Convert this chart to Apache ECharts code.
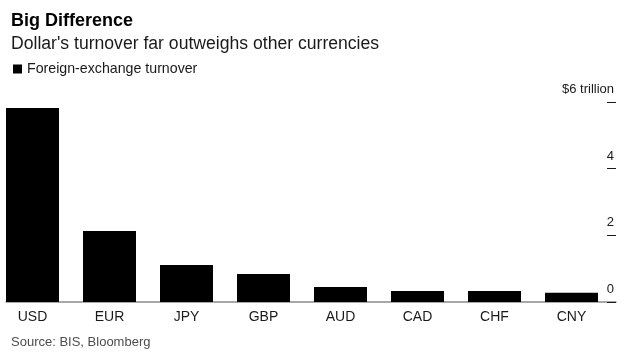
<!DOCTYPE html>
<html>
<head>
<meta charset="utf-8">
<title>Big Difference</title>
<script src="https://cdn.jsdelivr.net/npm/echarts@6/dist/echarts.min.js"></script>
<style>
  html, body { margin: 0; padding: 0; background: #fff; }
  #chart { width: 632px; height: 352px; }
</style>
</head>
<body>
<div id="chart"></div>
<script>
// data (trillions of dollars)
const currencies = ['USD', 'EUR', 'JPY', 'GBP', 'AUD', 'CAD', 'CHF', 'CNY']
const turnover = [5.82, 2.13, 1.11, 0.84, 0.45, 0.33, 0.33, 0.28]
const yTicks = [0, 2, 4, 6]
const seriesName = 'Foreign-exchange turnover'

const font = '"Liberation Sans", Arial, Helvetica, sans-serif'

let myChart = echarts.init(document.getElementById('chart'), null, { renderer: 'canvas' })

let options = {
  animation: false,
  textStyle: { fontFamily: font },
  title: [{
    text: 'Big Difference',
    left: 6,
    top: 7,
    textStyle: { fontSize: 18, fontWeight: 'bold', color: '#000', fontFamily: font }
  }, {
    text: 'Dollar\'s turnover far outweighs other currencies',
    left: 6,
    top: 30,
    textStyle: { fontSize: 17.6, fontWeight: 'normal', color: '#1a1a1a', fontFamily: font }
  }, {
    text: 'Source: BIS, Bloomberg',
    left: 6,
    top: 331,
    textStyle: { fontSize: 13, fontWeight: 'normal', color: '#4d4d4d', fontFamily: font }
  }],
  legend: {
    left: 8,
    top: 57,
    icon: 'rect',
    itemWidth: 9,
    itemHeight: 9,
    itemGap: 5,
    textStyle: { fontSize: 14.2, color: '#1a1a1a', fontFamily: font },
    data: [seriesName]
  },
  // grid 0 holds the bars (category points at bar centres),
  // grid 1 only draws the baseline and the right axis
  grid: [{
    left: 32.5,
    right: 60.5,
    top: 102,
    bottom: 50
  }, {
    left: 6,
    right: 16,
    top: 102,
    bottom: 50
  }],
  xAxis: [{
    type: 'category',
    gridIndex: 0,
    boundaryGap: false,
    data: currencies,
    axisLine: { show: false },
    axisTick: { show: false },
    axisLabel: {
      margin: 8,
      fontSize: 14,
      color: '#1a1a1a',
      fontFamily: font
    }
  }, {
    type: 'value',
    gridIndex: 1,
    min: 0,
    max: 1,
    axisLine: { show: true, onZero: false, lineStyle: { color: '#8c8c8c', width: 1.5 } },
    axisTick: { show: false },
    axisLabel: { show: false },
    splitLine: { show: false }
  }],
  yAxis: [{
    type: 'value',
    gridIndex: 0,
    min: yTicks[0],
    max: yTicks[yTicks.length - 1],
    interval: 2,
    show: false
  }, {
    type: 'value',
    gridIndex: 1,
    position: 'right',
    min: yTicks[0],
    max: yTicks[yTicks.length - 1],
    interval: 2,
    axisLine: { show: false, onZero: false },
    axisTick: {
      show: true,
      inside: true,
      length: 9,
      lineStyle: { color: '#1a1a1a', width: 1 }
    },
    axisLabel: {
      inside: true,
      margin: 2,
      align: 'right',
      verticalAlign: 'bottom',
      padding: [0, 0, 6, 0],
      fontSize: 13,
      color: '#1a1a1a',
      fontFamily: font,
      formatter: (val) => {
        return val === 6 ? '$6 trillion' : String(val)
      }
    },
    splitLine: { show: false }
  }],
  series: [{
    name: seriesName,
    type: 'bar',
    xAxisIndex: 0,
    yAxisIndex: 0,
    barWidth: 53,
    clip: false,
    itemStyle: { color: '#000' },
    data: turnover
  }]
}

myChart.setOption(options)
</script>
</body>
</html>
